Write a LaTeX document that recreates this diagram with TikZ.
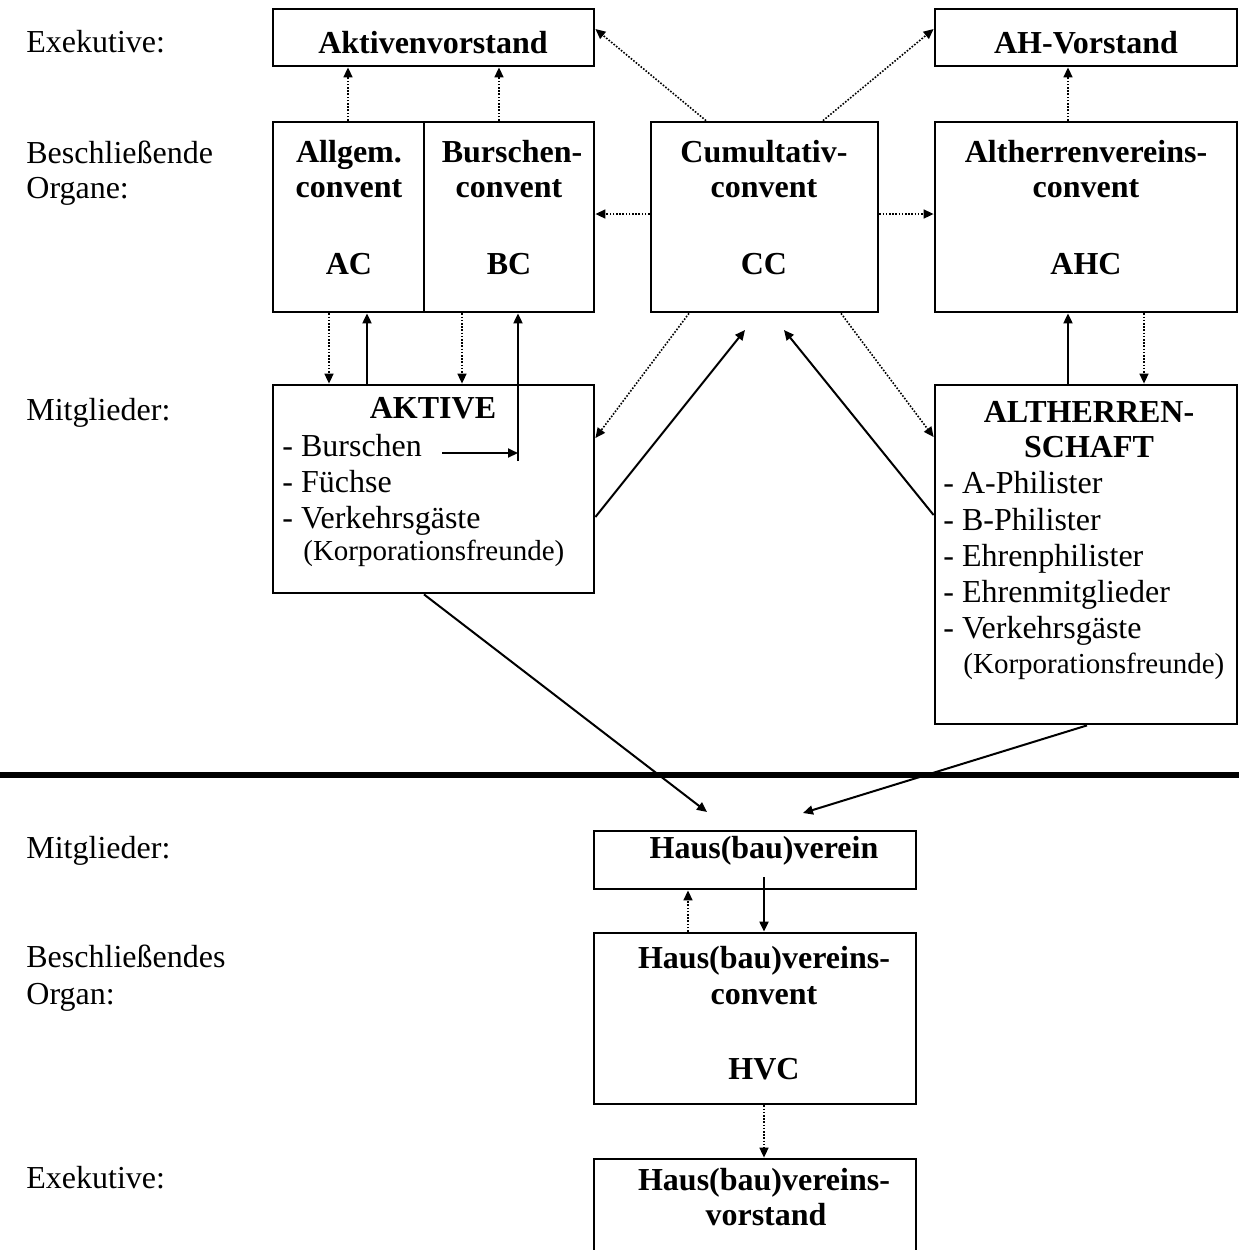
\documentclass[tikz,border=0pt]{standalone}
\usepackage{fontspec}
\setmainfont{Liberation Serif}
\usetikzlibrary{arrows.meta,fit}
\begin{document}
\begin{tikzpicture}[x=0.5pt,y=-0.5pt,
 box/.style={draw,line width=1.4pt,inner sep=0pt},
 lbl/.style={anchor=base west,inner sep=0pt,font=\fontsize{16pt}{18pt}\selectfont},
 ttl/.style={anchor=base,inner sep=0pt,font=\fontsize{16pt}{18pt}\selectfont\bfseries},
 sml/.style={anchor=base west,inner sep=0pt,font=\fontsize{14.5pt}{17pt}\selectfont},
 dotl/.style={line width=0.8pt,dash pattern=on 0.8pt off 0.8pt},
 sol/.style={line width=1pt},
 tip/.style={-{Triangle[length=5pt,width=4.5pt]}}]
\useasboundingbox (0,0) rectangle (1239,1250);
\clip (0,0) rectangle (1239,1250);

% helper coordinates (columns / rows)
\foreach \x in {329,348,367,424,462,499,518,688,689,706,764,823,841,1068,1087,1144}
  \coordinate (c\x) at (\x,0);
\foreach \y in {29,214,437,438,515,517}
  \coordinate (r\y) at (0,\y);

% boxes
\node[box,fit={(273,9)(594,66)}] (av) {};
\node[box,fit={(935,9)(1237,66)}] (ahv) {};
\node[box,fit={(273,122)(424,312)}] (ac) {};
\node[box,fit={(424,122)(594,312)}] (bc) {};
\node[box,fit={(651,122)(878,312)}] (cc) {};
\node[box,fit={(935,122)(1237,312)}] (ahc) {};
\node[box,fit={(273,385)(594,593)}] (akt) {};
\node[box,fit={(935,385)(1237,724)}] (ath) {};
\node[box,fit={(594,831)(916,889)}] (hv) {};
\node[box,fit={(594,933)(916,1104)}] (hvc) {};
\node[box,fit={(594,1159)(916,1262)}] (hvv) {};

% left labels
\node[lbl] (l1) at (26,52) {Exekutive:};
\node[lbl] (l2) at (26,163) {Beschließende};
\node[lbl] (l3) at (26,198) {Organe:};
\node[lbl] (l4) at (26,420) {Mitglieder:};
\node[lbl] (l5) at (26,858) {Mitglieder:};
\node[lbl] (l6) at (26,967) {Beschließendes};
\node[lbl] (l7) at (26,1004) {Organ:};
\node[lbl] (l8) at (26,1188) {Exekutive:};

% titles
\node[ttl] (tav) at (433,53) {Aktivenvorstand};
\node[ttl] (tahv) at (1086,53) {AH-Vorstand};
\node[ttl] (tac1) at (349,162) {Allgem.};
\node[ttl] (tac2) at (349,197) {convent};
\node[ttl] (tac3) at (349,274) {AC};
\node[ttl] (tbc1) at (512,162) {Burschen-};
\node[ttl] (tbc2) at (509,197) {convent};
\node[ttl] (tbc3) at (509,274) {BC};
\node[ttl] (tcc1) at (764,162) {Cumultativ-};
\node[ttl] (tcc2) at (764,197) {convent};
\node[ttl] (tcc3) at (764,274) {CC};
\node[ttl] (tah1) at (1086,162) {Altherrenvereins-};
\node[ttl] (tah2) at (1086,197) {convent};
\node[ttl] (tah3) at (1086,274) {AHC};
\node[ttl] (tak) at (433,418) {AKTIVE};
\node[ttl] (tat1) at (1089,422) {ALTHERREN-};
\node[ttl] (tat2) at (1089,457) {SCHAFT};
\node[ttl] (thv) at (764,858) {Haus(bau)verein};
\node[ttl] (thc1) at (764,968) {Haus(bau)vereins-};
\node[ttl] (thc2) at (764,1004) {convent};
\node[ttl] (thc3) at (764,1079) {HVC};
\node[ttl] (thv1) at (764,1190) {Haus(bau)vereins-};
\node[ttl] (thv2) at (766,1225) {vorstand};

% lists
\node[lbl] (a1) at (282,456) {- Burschen};
\node[lbl] (a2) at (282,492) {- Füchse};
\node[lbl] (a3) at (282,528) {- Verkehrsgäste};
\node[sml] (a4) at (303,560) {(Korporationsfreunde)};
\node[lbl] (b1) at (943,493) {- A-Philister};
\node[lbl] (b2) at (943,530) {- B-Philister};
\node[lbl] (b3) at (943,566) {- Ehrenphilister};
\node[lbl] (b4) at (943,602) {- Ehrenmitglieder};
\node[lbl] (b5) at (943,638) {- Verkehrsgäste};
\node[sml] (b6) at (963,673) {(Korporationsfreunde)};

% free-end coordinates
\coordinate (bs) at (442,453);
\coordinate (be) at (518,453);
\coordinate (bv) at (518,461);
\coordinate (ccL) at (745,330);
\coordinate (ccR) at (784,330);
\coordinate (hvL) at (707,812);
\coordinate (hvR) at (803,813);
\coordinate (hvin) at (764,877);
\coordinate (sepL) at (0,775);
\coordinate (sepR) at (1239,775);

% upper connectors
\draw[dotl,tip] (ac.north -| c348) -- (av.south -| c348);
\draw[dotl,tip] (bc.north -| c499) -- (av.south -| c499);
\draw[dotl,tip] (cc.north -| c706) -- (av.east |- r29);
\draw[dotl,tip] (cc.north -| c823) -- (ahv.west |- r29);
\draw[dotl,tip] (ahc.north -| c1068) -- (ahv.south -| c1068);
\draw[dotl,tip] (cc.west |- r214) -- (bc.east |- r214);
\draw[dotl,tip] (cc.east |- r214) -- (ahc.west |- r214);
\draw[dotl,tip] (ac.south -| c329) -- (akt.north -| c329);
\draw[sol,tip] (akt.north -| c367) -- (ac.south -| c367);
\draw[dotl,tip] (bc.south -| c462) -- (akt.north -| c462);
\draw[sol,tip] (bs) -- (be);
\draw[sol,tip] (bv) -- (bc.south -| c518);
\draw[dotl,tip] (cc.south -| c689) -- (akt.east |- r438);
\draw[sol,tip] (akt.east |- r517) -- (ccL);
\draw[sol,tip] (ath.west |- r515) -- (ccR);
\draw[dotl,tip] (cc.south -| c841) -- (ath.west |- r437);
\draw[sol,tip] (ath.north -| c1068) -- (ahc.south -| c1068);
\draw[dotl,tip] (ahc.south -| c1144) -- (ath.north -| c1144);
\draw[sol,tip] (akt.south -| c424) -- (hvL);
\draw[sol,tip] (ath.south -| c1087) -- (hvR);

% separator
\draw[line width=2.6pt] (sepL) -- (sepR);

% lower connectors
\draw[dotl,tip] (hvc.north -| c688) -- (hv.south -| c688);
\draw[sol,tip] (hvin) -- (hvc.north -| c764);
\draw[dotl,tip] (hvc.south -| c764) -- (hvv.north -| c764);
\end{tikzpicture}
\end{document}
